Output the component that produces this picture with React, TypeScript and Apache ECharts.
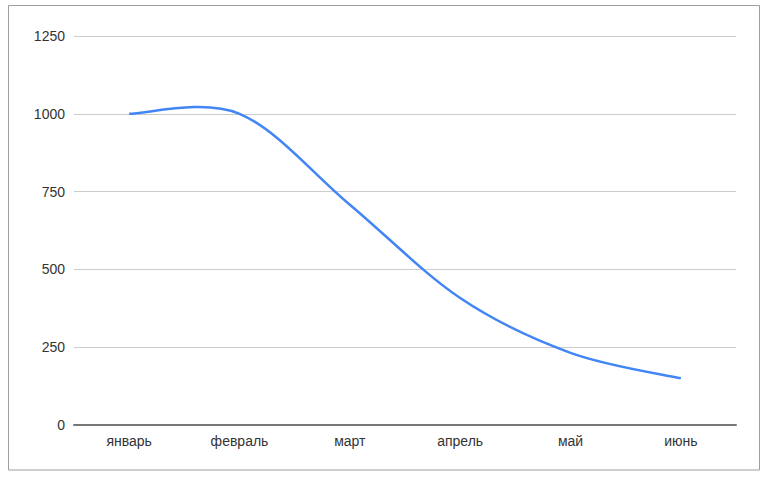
import React, { useEffect, useRef } from "react";
import * as echarts from "echarts";

const categories = ["январь", "февраль", "март", "апрель", "май", "июнь"];
const values = [1000, 1000, 708, 408, 232, 150];
const yTicks = [0, 250, 500, 750, 1000, 1250];

export default function App() {
  const ref = useRef<HTMLDivElement>(null);
  useEffect(() => {
    if (!ref.current) return;
    const chart = echarts.init(ref.current, undefined, { renderer: "svg" });
    const seriesData = values.map((v, i) => [i, v]);
    chart.setOption({
      animation: false,
      backgroundColor: "#ffffff",
      textStyle: { fontFamily: "Liberation Sans, Arial, sans-serif" },
      graphic: [
        {
          type: "rect",
          shape: { x: 8.5, y: 5.5, width: 751, height: 464.5 },
          style: { fill: "none", stroke: "#9e9e9e", lineWidth: 1 },
          silent: true,
        },
      ],
      grid: { left: 74, right: 27, top: 36, bottom: 52, containLabel: false },
      xAxis: {
        type: "category",
        data: categories,
        boundaryGap: true,
        axisLine: { show: true, lineStyle: { color: "#777777", width: 2 } },
        axisTick: { show: false },
        axisLabel: { color: "#333333", fontSize: 14, margin: 9 },
        splitLine: { show: false },
      },
      yAxis: {
        type: "value",
        min: yTicks[0],
        max: yTicks[yTicks.length - 1],
        interval: 250,
        axisLine: { show: false },
        axisTick: { show: false },
        axisLabel: {
          color: "#333333",
          fontSize: 14,
          margin: 9,
          formatter: (v: number) => String(v),
        },
        splitLine: { show: true, lineStyle: { color: "#cccccc", width: 1 } },
      },
      series: [
        {
          type: "custom",
          data: seriesData,
          encode: { x: 0, y: 1 },
          z: 3,
          renderItem: (params: any, api: any) => {
            if (params.dataIndex !== 0) return null;
            const pts = seriesData.map((d) => api.coord(d));
            const n = pts.length;
            let d = `M${pts[0][0]},${pts[0][1]}`;
            for (let i = 0; i < n - 1; i++) {
              const p0 = pts[i - 1] || pts[i];
              const p1 = pts[i];
              const p2 = pts[i + 1];
              const p3 = pts[i + 2] || pts[i + 1];
              const c1x = p1[0] + (p2[0] - p0[0]) / 6;
              const c1y = p1[1] + (p2[1] - p0[1]) / 6;
              const c2x = p2[0] - (p3[0] - p1[0]) / 6;
              const c2y = p2[1] - (p3[1] - p1[1]) / 6;
              d += ` C${c1x},${c1y} ${c2x},${c2y} ${p2[0]},${p2[1]}`;
            }
            return {
              type: "path",
              shape: { pathData: d },
              style: { fill: "none", stroke: "#4285f4", lineWidth: 2.5 },
            };
          },
        },
      ],
    });
    return () => chart.dispose();
  }, []);
  return (
    <div
      ref={ref}
      style={{ position: "fixed", left: 0, top: 0, width: 763, height: 477 }}
    />
  );
}
